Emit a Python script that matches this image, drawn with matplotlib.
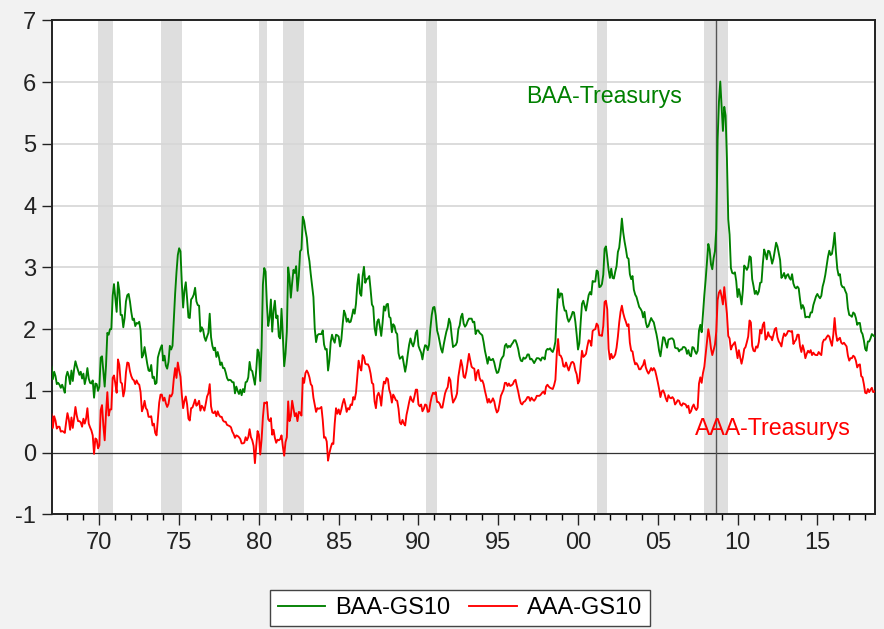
import numpy as np
import matplotlib
matplotlib.use("Agg")
import matplotlib.pyplot as plt
from matplotlib.ticker import FixedLocator

# ---------------- data (monthly, 1967m01 .. 2018m08) ----------------
start_year = 1967
baa_gs10 = [
    1.39, 1.19, 1.31, 1.24, 1.11, 1.13, 1.10, 1.05, 1.10, 1.04, 0.97, 1.23,  # 1967
    1.31, 1.24, 1.11, 1.33, 1.16, 1.35, 1.48, 1.40, 1.33, 1.26, 1.31, 1.20,  # 1968
    1.28, 1.11, 1.21, 1.37, 1.20, 1.13, 1.12, 1.17, 0.89, 1.12, 1.11, 1.00,  # 1969
    1.07, 1.54, 1.56, 1.31, 1.07, 1.41, 1.94, 1.91, 2.00, 2.00, 2.54, 2.73,  # 1970
    2.50, 2.28, 2.76, 2.62, 2.23, 2.23, 2.03, 2.18, 2.45, 2.55, 2.57, 2.45,  # 1971
    2.28, 2.15, 2.17, 2.05, 2.10, 2.09, 2.12, 1.98, 1.54, 1.58, 1.71, 1.57,  # 1972
    1.44, 1.33, 1.32, 1.42, 1.21, 1.23, 1.11, 1.13, 1.54, 1.62, 1.69, 1.74,  # 1973
    1.49, 1.57, 1.41, 1.36, 1.47, 1.73, 1.67, 1.73, 2.14, 2.58, 2.92, 3.20,  # 1974
    3.31, 3.26, 2.75, 2.35, 2.63, 2.76, 2.49, 2.19, 2.18, 2.48, 2.51, 2.56,  # 1975
    2.67, 2.45, 2.39, 2.38, 1.96, 2.03, 1.99, 1.87, 1.81, 1.88, 1.94, 2.25,  # 1976
    1.87, 1.73, 1.66, 1.70, 1.55, 1.63, 1.54, 1.42, 1.46, 1.37, 1.37, 1.30,  # 1977
    1.21, 1.17, 1.18, 1.17, 1.14, 1.14, 0.96, 1.07, 1.00, 0.95, 1.02, 0.93,  # 1978
    1.03, 0.98, 1.14, 1.15, 1.22, 1.47, 1.34, 1.32, 1.21, 1.10, 1.34, 1.67,  # 1979
    1.62, 1.16, 1.70, 2.72, 2.99, 2.93, 2.40, 2.05, 2.19, 2.48, 1.96, 2.30,  # 1980
    2.46, 2.18, 2.22, 1.88, 1.85, 2.33, 1.89, 1.40, 1.60, 1.96, 3.00, 2.83,  # 1981
    2.51, 2.75, 2.96, 2.91, 3.02, 2.62, 2.85, 3.26, 3.29, 3.82, 3.75, 3.60,  # 1982
    3.48, 3.23, 3.10, 2.89, 2.71, 2.52, 2.01, 1.79, 1.90, 1.92, 1.92, 1.92,  # 1983
    1.98, 1.75, 1.67, 1.68, 1.33, 1.49, 1.79, 1.91, 1.83, 1.78, 1.91, 1.90,  # 1984
    1.88, 1.72, 1.83, 2.08, 2.30, 2.24, 2.12, 2.17, 2.11, 2.12, 2.21, 2.32,  # 1985
    2.25, 2.41, 2.72, 2.89, 2.58, 2.54, 2.86, 3.01, 2.75, 2.81, 2.82, 2.86,  # 1986
    2.64, 2.40, 2.36, 2.02, 1.90, 2.12, 2.16, 2.04, 1.89, 2.10, 2.37, 2.30,  # 1987
    2.40, 2.41, 2.20, 2.18, 1.95, 2.08, 2.05, 1.95, 1.92, 1.61, 1.52, 1.54,  # 1988
    1.56, 1.44, 1.31, 1.43, 1.60, 1.75, 1.85, 1.77, 1.72, 1.80, 1.94, 1.98,  # 1989
    1.73, 1.67, 1.62, 1.51, 1.65, 1.74, 1.73, 1.66, 1.75, 2.02, 2.23, 2.35,  # 1990
    2.36, 2.22, 1.98, 1.90, 1.79, 1.68, 1.62, 1.75, 1.86, 1.96, 2.03, 2.17,  # 1991
    2.10, 1.89, 1.71, 1.73, 1.74, 1.79, 2.00, 2.06, 2.20, 2.25, 2.09, 2.04,  # 1992
    2.07, 2.13, 2.17, 2.17, 2.17, 2.11, 2.12, 1.92, 1.98, 1.98, 1.94, 1.92,  # 1993
    1.90, 1.79, 1.65, 1.55, 1.44, 1.55, 1.50, 1.50, 1.52, 1.46, 1.36, 1.29,  # 1994
    1.30, 1.38, 1.50, 1.54, 1.57, 1.73, 1.76, 1.70, 1.73, 1.71, 1.75, 1.78,  # 1995
    1.82, 1.82, 1.76, 1.68, 1.56, 1.49, 1.48, 1.54, 1.52, 1.54, 1.59, 1.59,  # 1996
    1.51, 1.52, 1.49, 1.45, 1.49, 1.53, 1.53, 1.52, 1.49, 1.54, 1.54, 1.51,  # 1997
    1.65, 1.68, 1.67, 1.69, 1.65, 1.63, 1.69, 1.80, 2.28, 2.65, 2.51, 2.58,  # 1998
    2.57, 2.39, 2.30, 2.30, 2.18, 2.12, 2.16, 2.21, 2.28, 2.27, 2.12, 1.91,  # 1999
    1.67, 1.77, 2.11, 2.41, 2.46, 2.38, 2.30, 2.43, 2.55, 2.60, 2.56, 2.78,  # 2000
    2.77, 2.77, 2.95, 2.93, 2.68, 2.69, 2.73, 2.88, 3.30, 3.34, 3.16, 2.96,  # 2001
    2.83, 2.98, 2.83, 2.82, 2.93, 3.02, 3.25, 3.32, 3.53, 3.79, 3.57, 3.42,  # 2002
    3.30, 3.16, 3.14, 2.89, 2.81, 2.86, 2.64, 2.56, 2.52, 2.44, 2.36, 2.33,  # 2003
    2.29, 2.19, 2.28, 2.11, 2.03, 2.05, 2.12, 2.18, 2.14, 2.11, 2.01, 1.92,  # 2004
    1.80, 1.65, 1.56, 1.71, 1.87, 1.86, 1.77, 1.70, 1.83, 1.84, 1.85, 1.85,  # 2005
    1.82, 1.70, 1.69, 1.69, 1.64, 1.67, 1.67, 1.71, 1.71, 1.69, 1.60, 1.66,  # 2006
    1.58, 1.56, 1.71, 1.70, 1.64, 1.60, 1.65, 1.98, 2.07, 1.95, 2.25, 2.55,  # 2007
    2.80, 3.08, 3.38, 3.29, 3.05, 2.97, 3.15, 3.26, 3.62, 5.07, 5.68, 6.01,  # 2008
    5.62, 5.21, 5.60, 5.46, 4.77, 3.78, 3.53, 2.99, 2.91, 2.90, 2.92, 2.78,  # 2009
    2.52, 2.65, 2.54, 2.40, 2.63, 3.03, 3.00, 2.96, 3.01, 3.18, 3.16, 2.81,  # 2010
    2.70, 2.57, 2.62, 2.56, 2.61, 2.75, 2.76, 3.06, 3.29, 3.22, 3.13, 3.27,  # 2011
    3.26, 3.17, 3.06, 3.14, 3.27, 3.40, 3.34, 3.23, 3.12, 2.83, 2.86, 2.91,  # 2012
    2.82, 2.87, 2.89, 2.83, 2.80, 2.89, 2.74, 2.68, 2.66, 2.69, 2.66, 2.48,  # 2013
    2.33, 2.39, 2.34, 2.19, 2.20, 2.20, 2.19, 2.27, 2.27, 2.39, 2.46, 2.53,  # 2014
    2.57, 2.53, 2.50, 2.54, 2.69, 2.77, 2.88, 3.02, 3.17, 3.27, 3.20, 3.22,  # 2015
    3.36, 3.56, 3.24, 2.98, 2.87, 2.89, 2.72, 2.68, 2.68, 2.62, 2.57, 2.34,  # 2016
    2.23, 2.22, 2.20, 2.27, 2.25, 2.18, 2.07, 2.10, 2.10, 1.96, 1.92, 1.82,  # 2017
    1.68, 1.65, 1.80, 1.80, 1.85, 1.92, 1.90, 1.88,                          # 2018
]
aaa_gs10 = [
    0.62, 0.40, 0.59, 0.52, 0.39, 0.42, 0.42, 0.34, 0.35, 0.34, 0.32, 0.49,  # 1967
    0.64, 0.54, 0.37, 0.57, 0.40, 0.56, 0.74, 0.60, 0.51, 0.51, 0.49, 0.42,  # 1968
    0.55, 0.47, 0.55, 0.72, 0.47, 0.41, 0.36, 0.28, -0.02, 0.23, 0.21, 0.07, # 1969
    0.12, 0.69, 0.77, 0.44, 0.20, 0.64, 0.98, 0.60, 0.70, 0.70, 1.21, 1.25,  # 1970
    1.12, 0.97, 1.51, 1.42, 1.14, 1.12, 0.91, 1.01, 1.30, 1.46, 1.45, 1.32,  # 1971
    1.24, 1.19, 1.17, 1.11, 1.17, 1.12, 1.10, 0.98, 0.67, 0.73, 0.84, 0.72,  # 1972
    0.69, 0.58, 0.58, 0.59, 0.44, 0.47, 0.32, 0.28, 0.54, 0.81, 0.94, 0.94,  # 1973
    0.84, 0.89, 0.80, 0.74, 0.79, 0.93, 0.91, 0.96, 1.20, 1.37, 1.21, 1.46,  # 1974
    1.33, 1.23, 0.94, 0.72, 0.84, 0.91, 0.78, 0.55, 0.52, 0.72, 0.73, 0.79,  # 1975
    0.86, 0.76, 0.79, 0.84, 0.68, 0.76, 0.73, 0.68, 0.79, 0.91, 0.96, 1.11,  # 1976
    0.75, 0.65, 0.64, 0.67, 0.59, 0.67, 0.61, 0.58, 0.58, 0.52, 0.50, 0.50,  # 1977
    0.45, 0.44, 0.43, 0.41, 0.34, 0.30, 0.24, 0.28, 0.27, 0.25, 0.22, 0.15,  # 1978
    0.15, 0.16, 0.25, 0.20, 0.25, 0.38, 0.25, 0.20, 0.11, -0.17, 0.11, 0.35, # 1979
    0.29, -0.03, 0.21, 0.57, 0.81, 0.80, 0.82, 0.54, 0.51, 0.56, 0.29, 0.37, # 1980
    0.24, 0.16, 0.21, 0.20, 0.22, 0.28, 0.10, -0.05, 0.17, 0.25, 0.83, 0.51, # 1981
    0.59, 0.84, 0.72, 0.59, 0.64, 0.51, 0.66, 0.65, 0.60, 1.21, 1.13, 1.29,  # 1982
    1.33, 1.29, 1.22, 1.11, 1.08, 0.89, 0.77, 0.66, 0.72, 0.71, 0.72, 0.74,  # 1983
    0.53, 0.24, 0.25, 0.18, -0.13, -0.01, 0.08, 0.15, 0.14, 0.47, 0.72, 0.63, # 1984
    0.70, 0.62, 0.70, 0.80, 0.87, 0.78, 0.66, 0.72, 0.70, 0.78, 0.77, 0.90,  # 1985
    0.86, 0.97, 1.22, 1.49, 1.38, 1.33, 1.58, 1.55, 1.44, 1.43, 1.43, 1.38,  # 1986
    1.28, 1.13, 1.11, 0.83, 0.72, 0.92, 0.97, 0.91, 0.76, 1.00, 1.15, 1.12,  # 1987
    1.21, 1.19, 1.02, 0.95, 0.81, 0.94, 0.90, 0.85, 0.84, 0.71, 0.49, 0.46,  # 1988
    0.53, 0.47, 0.44, 0.61, 0.71, 0.82, 0.91, 0.85, 0.82, 0.91, 1.02, 1.02,  # 1989
    0.78, 0.75, 0.78, 0.67, 0.71, 0.78, 0.77, 0.66, 0.67, 0.81, 0.91, 0.97,  # 1990
    0.95, 0.98, 0.82, 0.82, 0.79, 0.73, 0.73, 0.85, 0.96, 1.02, 1.06, 1.22,  # 1991
    1.17, 0.95, 0.81, 0.85, 0.89, 0.96, 1.23, 1.36, 1.50, 1.40, 1.23, 1.21,  # 1992
    1.31, 1.45, 1.60, 1.49, 1.39, 1.37, 1.36, 1.17, 1.30, 1.34, 1.21, 1.16,  # 1993
    1.17, 1.11, 1.00, 0.91, 0.81, 0.87, 0.81, 0.83, 0.88, 0.83, 0.72, 0.65,  # 1994
    0.68, 0.79, 0.92, 0.97, 1.02, 1.13, 1.13, 1.08, 1.12, 1.08, 1.09, 1.11,  # 1995
    1.16, 1.18, 1.08, 0.99, 0.88, 0.80, 0.78, 0.82, 0.83, 0.86, 0.90, 0.90,  # 1996
    0.84, 0.89, 0.86, 0.84, 0.87, 0.92, 0.92, 0.92, 0.94, 0.97, 0.99, 0.95,  # 1997
    1.07, 1.10, 1.07, 1.05, 1.04, 1.03, 1.09, 1.18, 1.59, 1.84, 1.58, 1.57,  # 1998
    1.52, 1.40, 1.39, 1.46, 1.39, 1.33, 1.40, 1.46, 1.47, 1.44, 1.33, 1.27,  # 1999
    1.12, 1.16, 1.42, 1.65, 1.55, 1.57, 1.60, 1.72, 1.82, 1.81, 1.73, 1.97,  # 2000
    1.99, 2.00, 2.09, 2.06, 1.90, 1.90, 1.89, 2.05, 2.44, 2.46, 2.32, 1.68,  # 2001
    1.51, 1.60, 1.53, 1.55, 1.59, 1.70, 1.88, 2.11, 2.28, 2.38, 2.26, 2.18,  # 2002
    2.12, 2.05, 2.08, 1.78, 1.65, 1.64, 1.51, 1.43, 1.45, 1.41, 1.35, 1.35,  # 2003
    1.39, 1.42, 1.50, 1.38, 1.32, 1.28, 1.32, 1.37, 1.33, 1.37, 1.33, 1.24,  # 2004
    1.14, 1.03, 0.90, 0.99, 1.01, 0.96, 0.88, 0.83, 0.93, 0.89, 0.88, 0.90,  # 2005
    0.87, 0.78, 0.81, 0.85, 0.84, 0.78, 0.76, 0.80, 0.79, 0.78, 0.73, 0.76,  # 2006
    0.64, 0.67, 0.74, 0.78, 0.72, 0.69, 0.73, 1.12, 1.22, 1.13, 1.29, 1.39,  # 2007
    1.59, 1.79, 2.00, 1.87, 1.69, 1.58, 1.66, 1.75, 1.96, 2.47, 2.59, 2.63,  # 2008
    2.53, 2.40, 2.68, 2.46, 2.25, 1.89, 1.85, 1.67, 1.73, 1.76, 1.79, 1.67,  # 2009
    1.53, 1.66, 1.54, 1.44, 1.54, 1.68, 1.71, 1.79, 1.88, 2.14, 2.11, 1.73,  # 2010
    1.65, 1.64, 1.72, 1.70, 1.79, 1.99, 1.93, 2.07, 2.11, 1.83, 1.86, 1.95,  # 2011
    1.88, 1.88, 1.82, 1.91, 2.00, 2.02, 1.87, 1.80, 1.77, 1.72, 1.85, 1.93,  # 2012
    1.89, 1.92, 1.97, 1.97, 1.96, 1.97, 1.76, 1.80, 1.83, 1.91, 1.91, 1.72,  # 2013
    1.63, 1.74, 1.66, 1.53, 1.60, 1.65, 1.62, 1.66, 1.58, 1.62, 1.59, 1.58,  # 2014
    1.58, 1.63, 1.60, 1.58, 1.78, 1.83, 1.83, 1.87, 1.90, 1.88, 1.80, 1.73,  # 2015
    1.91, 2.18, 1.93, 1.81, 1.84, 1.86, 1.78, 1.76, 1.78, 1.75, 1.72, 1.57,  # 2016
    1.49, 1.53, 1.53, 1.57, 1.55, 1.49, 1.38, 1.42, 1.43, 1.24, 1.22, 1.11,  # 2017
    0.97, 0.96, 1.03, 0.98, 1.02, 1.05, 0.98, 0.99,                          # 2018
]

# NBER recessions (start, end) as decimal years
rec_start = [1969 + 11/12, 1973 + 10/12, 1980.0, 1981 + 6/12, 1990 + 6/12, 2001 + 2/12, 2007 + 11/12]
rec_end = [1970 + 10/12, 1975 + 2/12, 1980 + 6/12, 1982 + 10/12, 1991 + 2/12, 2001 + 10/12, 2009 + 5/12]
lehman = 2008 + 8/12

xtick_years = [1970, 1975, 1980, 1985, 1990, 1995, 2000, 2005, 2010, 2015]
xtick_labels = ["70", "75", "80", "85", "90", "95", "00", "05", "10", "15"]
yticks = [-1, 0, 1, 2, 3, 4, 5, 6, 7]

series_names = ["BAA-GS10", "AAA-GS10"]
annot_baa = "BAA-Treasurys"
annot_aaa = "AAA-Treasurys"

# ---------------- plot ----------------
plt.rcParams['font.family'] = ['Liberation Sans', 'DejaVu Sans']

n = len(baa_gs10)
t = start_year + np.arange(n) / 12.0

fig = plt.figure(figsize=(8.84, 6.29), dpi=100, facecolor='#F2F2F2')
ax = fig.add_axes([51.5/884, 1 - 514.4/629, (874.5-51.5)/884, (514.4-20.4)/629])
ax.set_facecolor('white')

for s, e in zip(rec_start, rec_end):
    ax.axvspan(s, e, color='#DEDEDE', lw=0, zorder=0)

for yv in yticks:
    if yv not in (-1, 0, 7):
        ax.axhline(yv, color='#D6D6D6', lw=1.2, zorder=1)
ax.axhline(0, color='#333333', lw=0.9, zorder=2)
ax.axvline(lehman, color='#555555', lw=1.0, zorder=2)

ax.plot(t, baa_gs10, color='#008000', lw=1.35, label=series_names[0], zorder=3)
ax.plot(t, aaa_gs10, color='#FF0000', lw=1.35, label=series_names[1], zorder=3)

ax.text(1996.77, 5.76, annot_baa, color='#008000', fontsize=16.7, va='center', ha='left')
ax.text(2007.35, 0.39, annot_aaa, color='#FF0000', fontsize=16.7, va='center', ha='left')

ax.set_xlim(t[0], t[-1])
ax.set_ylim(-1, 7)
ax.set_yticks(yticks)
ax.set_yticklabels([str(v) for v in yticks])
ax.set_xticks(xtick_years)
ax.set_xticklabels(xtick_labels)
ax.xaxis.set_minor_locator(FixedLocator(list(range(1968, 2019))))

ax.tick_params(axis='both', which='major', labelsize=17, direction='out', colors='#222222')
ax.tick_params(axis='x', which='major', length=8, width=1.0, pad=5)
ax.tick_params(axis='x', which='minor', length=4.5, width=1.0)
ax.tick_params(axis='y', which='major', length=7, width=1.0, pad=4)
for sp in ax.spines.values():
    sp.set_linewidth(1.4)
    sp.set_color('#222222')

leg = fig.legend(loc='center', bbox_to_anchor=(460/884, 1 - 608/629), ncol=2,
                 fontsize=17, frameon=True, fancybox=False, edgecolor='#444444',
                 facecolor='white', framealpha=1, handlelength=2.0, columnspacing=0.8,
                 handletextpad=0.45, borderpad=0.3)
leg.get_frame().set_linewidth(1.0)

fig.savefig('out.png', dpi=100, facecolor=fig.get_facecolor())
